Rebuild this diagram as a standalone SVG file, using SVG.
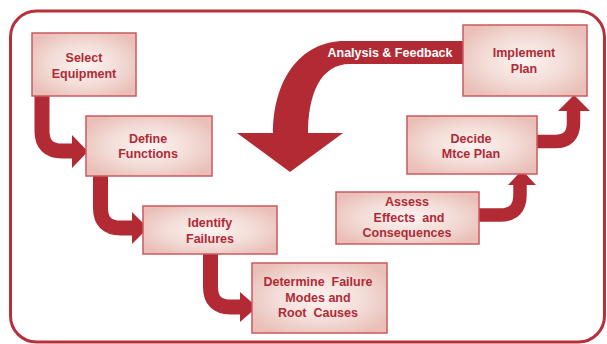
<svg xmlns="http://www.w3.org/2000/svg" width="607" height="344" viewBox="0 0 607 344">
<defs>
<radialGradient id="bg" cx="50%" cy="50%" r="60%">
<stop offset="0" stop-color="#fcf4f2"/>
<stop offset="0.55" stop-color="#f3dcd7"/>
<stop offset="1" stop-color="#e9bfb7"/>
</radialGradient>
<style>
.box{fill:url(#bg);stroke:#cc5a60;stroke-width:1.5}
.t{font-family:"Liberation Sans",Arial,sans-serif;font-weight:bold;font-size:12.5px;fill:#b02a36;text-anchor:middle;white-space:pre}
.band{fill:none;stroke:#b22b34;stroke-width:15}
.band2{fill:none;stroke:#b22b34;stroke-width:13.5}
.head{fill:#b22b34}
</style>
</defs>
<rect x="10.5" y="11" width="594" height="331" rx="26" ry="26" fill="#ffffff" stroke="#b8303a" stroke-width="3"/>
<g id="connectors">
<path class="band" d="M42,96 V131 Q42,151 62,151 H74"/>
<polygon class="head" points="72,135 88,151.5 72,168"/>
<path class="band" d="M100.5,176 V208 Q100.5,228 120.5,228 H134"/>
<polygon class="head" points="132,212 148,228 132,244"/>
<path class="band" d="M210.5,254 V287 Q210.5,307 230.5,307 H242"/>
<polygon class="head" points="240,292 257,307 240,322"/>
<path class="band2" d="M479,215 H500 Q520,215 520,195 V184"/>
<polygon class="head" points="508,185 522,170 536,185"/>
<path class="band2" d="M537,141.5 H555 Q573.5,141.5 573.5,123 V110"/>
<polygon class="head" points="558,111 574,95 590,111"/>
<path class="head" d="M463,41 H345 C300,41 273,80 273,134 H308 C308,95 320,64 350,64 H463 Z"/>
<polygon class="head" points="237,133 343,133 290,172"/>
<text x="390" y="57" font-family="'Liberation Sans',Arial,sans-serif" font-weight="bold" font-size="12.5" fill="#ffffff" text-anchor="middle">Analysis &amp; Feedback</text>
</g>
<g id="select">
<rect class="box" x="32" y="33" width="104" height="63"/>
<text class="t" x="84" y="62">Select</text>
<text class="t" x="84" y="78">Equipment</text>
</g>
<g id="define">
<rect class="box" x="86" y="116" width="126" height="60"/>
<text class="t" x="148" y="142.5">Define</text>
<text class="t" x="148" y="158">Functions</text>
</g>
<g id="identify">
<rect class="box" x="143" y="206" width="134" height="48"/>
<text class="t" x="210" y="227">Identify</text>
<text class="t" x="210" y="242.5">Failures</text>
</g>
<g id="determine">
<rect class="box" x="252" y="263" width="135" height="70"/>
<text class="t" x="318" y="286">Determine  Failure</text>
<text class="t" x="318" y="301.5">Modes and</text>
<text class="t" x="318" y="317">Root  Causes</text>
</g>
<g id="assess">
<rect class="box" x="336" y="192" width="143" height="52"/>
<text class="t" x="407" y="206">Assess</text>
<text class="t" x="409" y="221.5">Effects  and</text>
<text class="t" x="407" y="237">Consequences</text>
</g>
<g id="decide">
<rect class="box" x="407" y="116" width="130" height="58"/>
<text class="t" x="471" y="142.5">Decide</text>
<text class="t" x="471" y="158">Mtce Plan</text>
</g>
<g id="implement">
<rect class="box" x="463" y="25" width="124" height="71"/>
<text class="t" x="524" y="57">Implement</text>
<text class="t" x="524" y="72.5">Plan</text>
</g>
</svg>
